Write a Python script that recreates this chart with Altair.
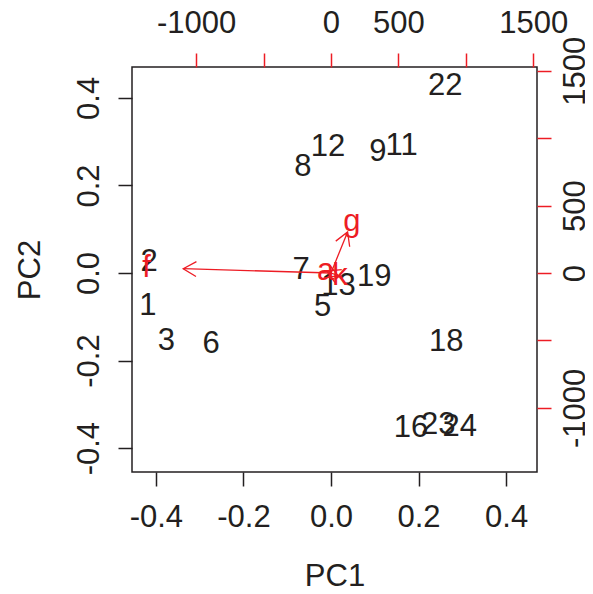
import altair as alt
import pandas as pd

# ---- data ----
PT_LABELS = ["1", "2", "3", "5", "6", "7", "8", "9", "11", "12", "13",
             "16", "18", "19", "22", "23", "24"]
PT_PC1 = [-0.418, -0.4155, -0.376, -0.019, -0.274, -0.068, -0.064, 0.107,
          0.1615, -0.007, 0.017, 0.1825, 0.263, 0.099, 0.261, 0.245, 0.294]
PT_PC2 = [-0.071, 0.029, -0.151, -0.074, -0.157, 0.0105, 0.246, 0.280,
          0.294, 0.292, -0.025, -0.349, -0.152, -0.005, 0.431, -0.342, -0.3475]

VAR_NAMES = ["f", "g", "a", "k"]
VAR_LABEL_X = [-1368, 154, -39, 67]
VAR_LABEL_Y = [40, 381, 17, -25]
ARROW_X = [-1096, 123, -31, 54]
ARROW_Y = [32, 305, 14, -20]

PC_TICKS = [-0.4, -0.2, 0.0, 0.2, 0.4]
VAR_TICKS = [-1000, -500, 0, 500, 1000, 1500]
VAR_TICKS_LABELED = [-1000, 0, 500, 1500]

PC_DOMAIN = [-0.4545, 0.4705]
VAR_DOMAIN = [-1476, 1528]

INK = "#231F20"
RED = "#ED1C24"
FONT = "Liberation Sans"
FS = 31

pts = pd.DataFrame({"label": PT_LABELS, "pc1": PT_PC1, "pc2": PT_PC2})
var = pd.DataFrame({"name": VAR_NAMES, "lx": VAR_LABEL_X, "ly": VAR_LABEL_Y,
                    "tx": ARROW_X, "ty": ARROW_Y})

minus_fix = "replace(datum.label, '\u2212', '-')"
labeled = "[" + ",".join(str(v) for v in VAR_TICKS_LABELED) + "]"
var_label_expr = f"indexof({labeled}, datum.value) >= 0 ? {minus_fix} : ''"

common = dict(grid=False, domain=False, tickSize=14, tickWidth=1.5,
              labelFont=FONT, labelFontSize=FS, labelColor=INK,
              labelOverlap=False, labelFlush=False,
              titleFont=FONT, titleFontSize=FS, titleColor=INK,
              titleFontWeight="normal")

ax_bottom = alt.Axis(orient="bottom", values=PC_TICKS, format=".1f",
                     labelExpr=minus_fix, tickColor=INK,
                     labelBaseline="middle", labelPadding=31.5,
                     titleBaseline="middle", titleAlign="center",
                     titleX=202.5, titleY=104.3, **common)
ax_left = alt.Axis(orient="left", values=PC_TICKS, format=".1f",
                   labelExpr=minus_fix, tickColor=INK,
                   labelAngle=270, labelAlign="center", labelBaseline="middle",
                   labelPadding=28.2,
                   titleAngle=270, titleBaseline="middle", titleAlign="center",
                   titleX=-101.7, titleY=202.5, **common)
ax_top = alt.Axis(orient="top", values=VAR_TICKS, format="d",
                  labelExpr=var_label_expr, tickColor=RED,
                  labelBaseline="middle", labelPadding=29.5, **common)
ax_right = alt.Axis(orient="right", values=VAR_TICKS, format="d",
                    labelExpr=var_label_expr, tickColor=RED,
                    labelAngle=270, labelAlign="center", labelBaseline="middle",
                    labelPadding=24.0, **common)

pc_scale = alt.Scale(domain=PC_DOMAIN, nice=False, zero=False)
var_scale = alt.Scale(domain=VAR_DOMAIN, nice=False, zero=False)

points = alt.Chart(pts).mark_text(
    font=FONT, fontSize=FS, color=INK, align="center", baseline="middle", dy=2
).encode(
    x=alt.X("pc1:Q", scale=pc_scale, axis=ax_bottom, title="PC1"),
    y=alt.Y("pc2:Q", scale=pc_scale, axis=ax_left, title="PC2"),
    text="label:N",
)

shafts = alt.Chart(var).transform_calculate(o="0").mark_rule(
    color=RED, strokeWidth=1.3
).encode(
    x=alt.X("o:Q", scale=var_scale, axis=ax_top, title=""),
    y=alt.Y("o:Q", scale=var_scale, axis=ax_right, title=""),
    x2="tx:Q",
    y2="ty:Q",
)

heads = alt.Chart(var).transform_calculate(
    ang="(atan2(datum.tx, datum.ty) * 180 / PI + 360) % 360"
).mark_point(
    shape="M-0.5,0.866L0,0L0.5,0.866", size=900, filled=False,
    color=RED, strokeWidth=1.3, opacity=1
).encode(
    x=alt.X("tx:Q", scale=var_scale, axis=ax_top, title=""),
    y=alt.Y("ty:Q", scale=var_scale, axis=ax_right, title=""),
    angle=alt.Angle("ang:Q", scale=None),
)

var_text = alt.Chart(var).mark_text(
    font=FONT, fontSize=FS, color=RED, align="center", baseline="middle"
).encode(
    x=alt.X("lx:Q", scale=var_scale, axis=ax_top, title=""),
    y=alt.Y("ly:Q", scale=var_scale, axis=ax_right, title=""),
    text="name:N",
)

inner = alt.layer(shafts, heads, var_text)

chart = alt.layer(points, inner).resolve_scale(
    x="independent", y="independent"
).properties(
    width=405, height=405,
    autosize=alt.AutoSizeParams(type="none"),
    padding={"left": 124, "top": 59, "right": 48, "bottom": 114},
).configure(
    background="white"
).configure_view(
    stroke=INK, strokeWidth=1.5
)

chart.save("out.html", embed_options={"renderer": "svg", "actions": False})
